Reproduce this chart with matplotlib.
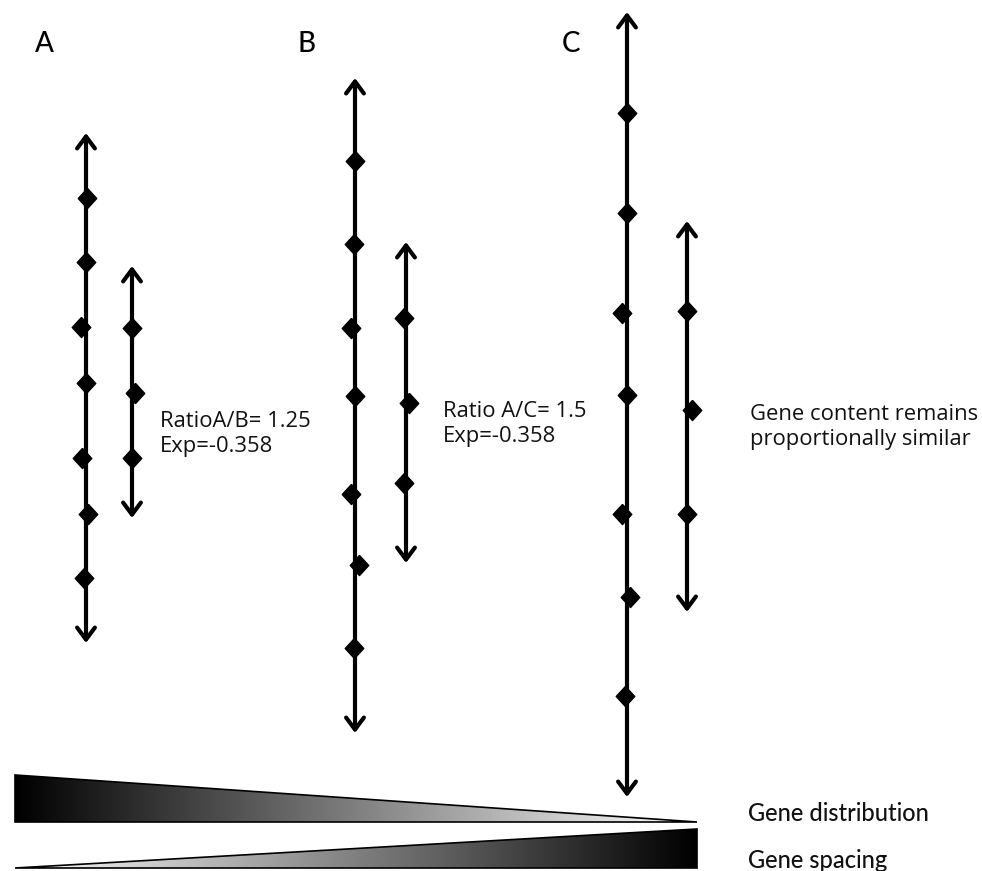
import numpy as np
import matplotlib.pyplot as plt
from matplotlib.patches import Polygon

# panel letters
panel_labels = ["A", "B", "C"]
panel_label_x = [35, 298, 562]
panel_label_y = 44

# long chromosome in each panel: x, arrow ends, gene (diamond) positions
long_x = [86, 355, 627]
long_top = [133, 78, 12]
long_bottom = [643, 733, 797]
long_genes = [
    [198, 262, 327, 383, 458, 514, 578],
    [161, 244, 328, 396, 494, 565, 648],
    [113, 213, 313, 395, 514, 597, 696],
]
long_shift = [
    [1, 0, -5, 0, -4, 2, -2],
    [0, -1, -4, 0, -4, 4, -1],
    [0, 0, -5, 0, -5, 3, -2],
]

# short chromosome in each panel
short_x = [132, 406, 687]
short_top = [266, 242, 221]
short_bottom = [518, 563, 612]
short_genes = [
    [328, 393, 458],
    [318, 403, 483],
    [311, 410, 514],
]
short_shift = [
    [0, 3, 0],
    [-2, 3, -2],
    [0, 5, 0],
]

notes = ["RatioA/B= 1.25\nExp=-0.358",
         "Ratio A/C= 1.5\nExp=-0.358",
         "Gene content remains\nproportionally similar"]
note_x = [160, 443, 750]
note_y = [434, 424, 427]

wedge_labels = ["Gene distribution", "Gene spacing"]
wedge_label_y = [813, 860]

W, H = 982, 871
fig = plt.figure(figsize=(W / 100, H / 100), dpi=100)
ax = fig.add_axes([0, 0, 1, 1])
ax.set_xlim(0, W)
ax.set_ylim(H, 0)
ax.axis("off")

narrow = ["Lato", "DejaVu Sans"]
body = ["Open Sans", "DejaVu Sans"]

for lab, x in zip(panel_labels, panel_label_x):
    ax.text(x, panel_label_y, lab, family=narrow, fontsize=20, va="center",
            ha="left", weight="medium", color="black")


def chromosome(x, top, bottom, genes, shift):
    ax.annotate("", xy=(x, top), xytext=(x, bottom),
                arrowprops=dict(arrowstyle="<->,head_length=0.43,head_width=0.32",
                                lw=3.0, color="black", mutation_scale=20,
                                shrinkA=0, shrinkB=0))
    diamond = [(0, 1), (0.92, 0), (0, -1), (-0.92, 0), (0, 1)]
    ax.plot(np.array(shift) + x, genes, linestyle="none", marker=diamond,
            markersize=14.5, color="black")


for i in range(3):
    chromosome(long_x[i], long_top[i], long_bottom[i], long_genes[i], long_shift[i])
    chromosome(short_x[i], short_top[i], short_bottom[i], short_genes[i], short_shift[i])
    ax.text(note_x[i], note_y[i], notes[i], family=body, fontsize=15.8,
            va="center", ha="left", linespacing=1.3, weight="medium",
            color="#111111")

# shaded wedges at the bottom
grad = np.linspace(0, 1, 256).reshape(1, -1)
x0, x1 = 15, 697

top_wedge = Polygon([(x0, 775), (x0, 822), (x1, 822)], closed=True,
                    facecolor="none", edgecolor="black", lw=1.2)
ax.add_patch(top_wedge)
im = ax.imshow(grad, cmap="gray", extent=(x0, x1, 822, 775), aspect="auto")
im.set_clip_path(top_wedge)

bottom_wedge = Polygon([(x0, 868), (x1, 829), (x1, 868)], closed=True,
                       facecolor="none", edgecolor="black", lw=1.2)
ax.add_patch(bottom_wedge)
im2 = ax.imshow(grad[:, ::-1], cmap="gray", extent=(x0, x1, 868, 829), aspect="auto")
im2.set_clip_path(bottom_wedge)

for lab, y in zip(wedge_labels, wedge_label_y):
    ax.text(748, y, lab, family=narrow, fontsize=17, va="center", ha="left",
            weight="medium", color="#111111")

ax.set_xlim(0, W)
ax.set_ylim(H, 0)
fig.savefig("out.png", dpi=100)
